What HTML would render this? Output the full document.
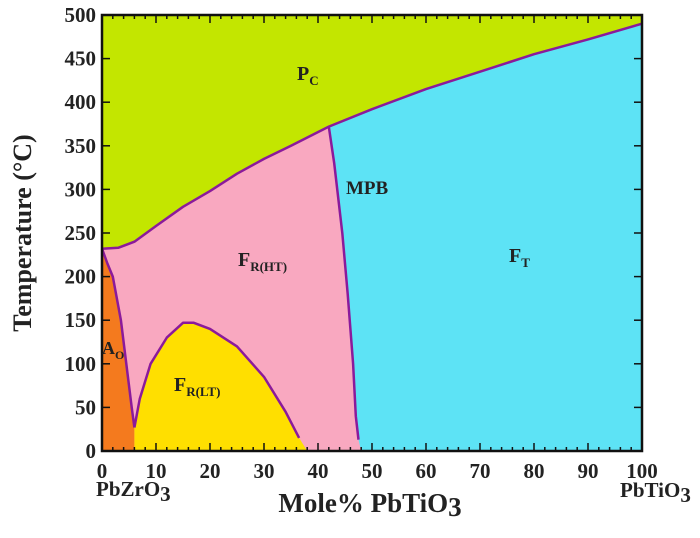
<!DOCTYPE html>
<html><head><meta charset="utf-8"><style>
html,body{margin:0;padding:0;background:#fff;width:700px;height:538px;overflow:hidden}
svg text{font-family:"Liberation Serif",serif;font-weight:bold;fill:#222}
</style></head><body>
<svg id="chart" width="700" height="538" viewBox="0 0 700 538"></svg>
<script>
// Data (x = mole% PbTiO3, y = temperature °C)
const curieX = [0,3,6,10,15,20,25,30,35,42,50,60,70,80,90,100];
const curieT = [232,233,240,258,280,298,318,335,350,372,392,415,435,455,472,490];
const mpbX = [42,43,44.5,45.5,46.5,47,47.5];
const mpbT = [372,330,250,180,100,40,13];
const aoX = [0,1,2,3.5,4.5,5.5,6];
const aoT = [232,215,200,150,100,50,27];
const lowX = [6,7,9,12,15,17,20,25,30,34,36.5];
const lowT = [27,60,100,130,147,147,140,120,85,45,15];
const xTicks = [0,10,20,30,40,50,60,70,80,90,100];
const yTicks = [0,50,100,150,200,250,300,350,400,450,500];

const X0=102,X1=642,Y0=451,Y1=15;
const sx=v=>X0+(X1-X0)*v/100;
const sy=v=>Y0-(Y0-Y1)*v/500;
const svg=document.getElementById('chart');
const NS='http://www.w3.org/2000/svg';
function mk(tag,attrs){const e=document.createElementNS(NS,tag);for(const k in attrs)e.setAttribute(k,attrs[k]);svg.appendChild(e);return e;}
const pts=(xs,ts)=>xs.map((x,i)=>sx(x).toFixed(1)+','+sy(ts[i]).toFixed(1));

let e;
e=mk('rect',{x:X0,y:Y1,width:X1-X0,height:Y0-Y1,fill:'#c3e600'});


e=mk('polygon',{points:[...pts(curieX,curieT),sx(100)+','+sy(0),sx(0)+','+sy(0)].join(' '),fill:'#5de3f5'});


const curieSub=curieX.map((x,i)=>[x,curieT[i]]).filter(p=>p[0]<=42);
e=mk('polygon',{points:[...curieSub.map(p=>sx(p[0])+','+sy(p[1])),...pts(mpbX,mpbT),sx(48)+','+sy(0),sx(0)+','+sy(0)].join(' '),fill:'#f9a8c0'});


e=mk('polygon',{points:[...pts(aoX,aoT),sx(6)+','+sy(0),sx(0)+','+sy(0)].join(' '),fill:'#f47a1e'});


e=mk('polygon',{points:[...pts(lowX,lowT),sx(38)+','+sy(0),sx(6)+','+sy(0)].join(' '),fill:'#ffdf00'});



[[curieX,curieT,'curie-line'],[mpbX,mpbT,'mpb-line'],[aoX,aoT,'ao-boundary'],[lowX,lowT,'fr-lt-boundary']].forEach(([xs,ts,n])=>{
  const l=mk('polyline',{points:pts(xs,ts).join(' '),fill:'none',stroke:'#8b1a9b','stroke-width':2.5,'stroke-linejoin':'round'});
  
  
});

e=mk('rect',{x:X0,y:Y1,width:X1-X0,height:Y0-Y1,fill:'none',stroke:'#111','stroke-width':2.5});


for(let v=0;v<=100;v+=2){
  const major=v%10===0, len=major?8:4;
  mk('line',{x1:sx(v),x2:sx(v),y1:Y0,y2:Y0-len,stroke:'#111','stroke-width':1.5});
  mk('line',{x1:sx(v),x2:sx(v),y1:Y1,y2:Y1+len,stroke:'#111','stroke-width':1.5});
}
xTicks.forEach(v=>{
  const t=mk('text',{x:sx(v),y:478,'text-anchor':'middle','font-size':21});
  t.textContent=v;
  
  
});
yTicks.forEach(v=>{
  mk('line',{x1:X0,x2:X0+8,y1:sy(v),y2:sy(v),stroke:'#111','stroke-width':1.5});
  mk('line',{x1:X1,x2:X1-8,y1:sy(v),y2:sy(v),stroke:'#111','stroke-width':1.5});
  const t=mk('text',{x:X0-6,y:sy(v)+7,'text-anchor':'end','font-size':21});
  t.textContent=v;
  
  
});
</script>
<svg style="position:absolute;left:0;top:0" width="700" height="538">
<text transform="translate(31,233) rotate(-90)" text-anchor="middle" font-size="26">Temperature (°C)</text>
<text x="370" y="512" text-anchor="middle" font-size="27">Mole% PbTiO<tspan dy="4">3</tspan></text>
<text x="96" y="496" font-size="21">PbZrO<tspan dy="5">3</tspan></text>
<text x="620" y="497" font-size="21">PbTiO<tspan dy="5">3</tspan></text>
<text x="297" y="80" font-size="20">P<tspan font-size="13" dy="5">C</tspan></text>
<text x="238" y="266" font-size="20">F<tspan font-size="13" dy="5">R(HT)</tspan></text>
<text x="346" y="194" font-size="19">MPB</text>
<text x="509" y="262" font-size="20">F<tspan font-size="13" dy="5">T</tspan></text>
<text x="102" y="354" font-size="18">A<tspan font-size="12" dy="5">O</tspan></text>
<text x="174" y="391" font-size="20">F<tspan font-size="13" dy="5">R(LT)</tspan></text>
</svg>
</body></html>
